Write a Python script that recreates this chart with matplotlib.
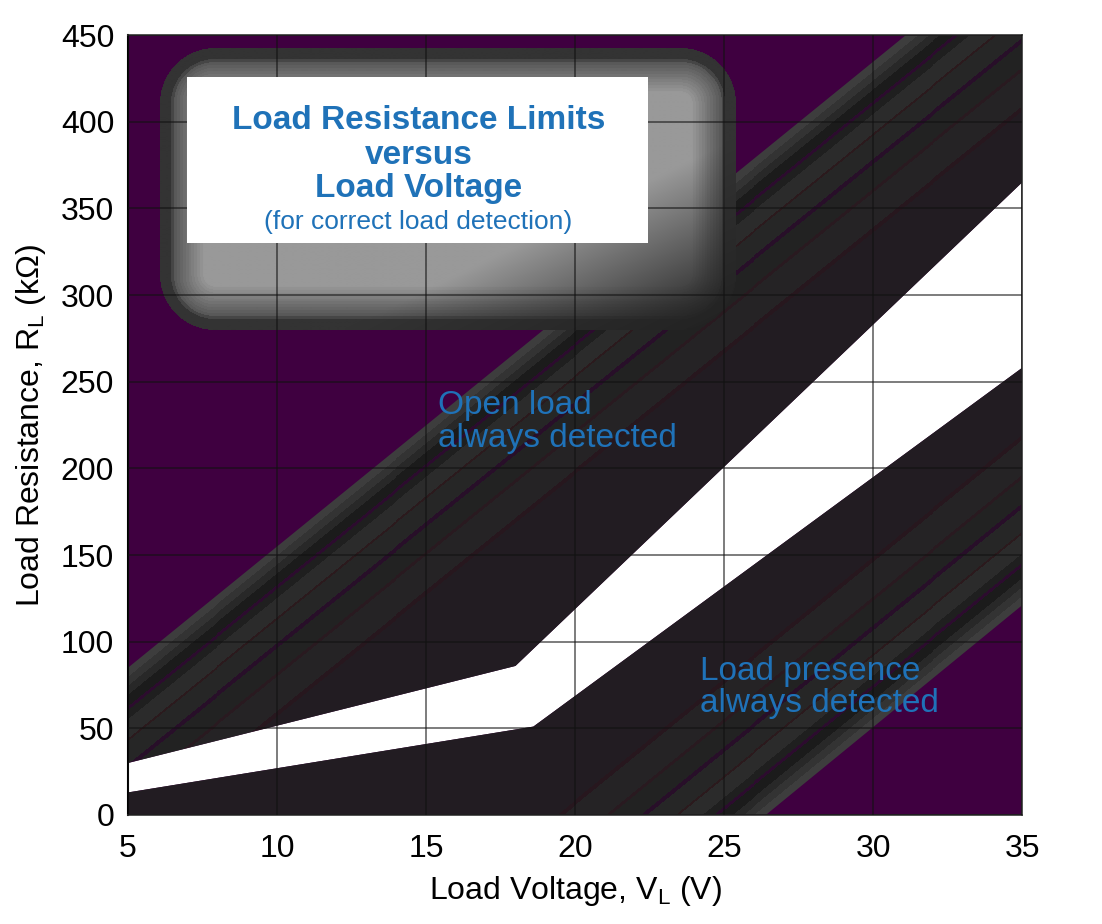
import numpy as np
import matplotlib.pyplot as plt
from matplotlib.patches import Polygon, Rectangle
from matplotlib.colors import to_rgb

plt.rcParams['font.family'] = ['Liberation Sans', 'DejaVu Sans']
plt.rcParams['mathtext.fontset'] = 'custom'
plt.rcParams['mathtext.rm'] = 'Liberation Sans'

# boundary lines (V, kOhm)
v_open = [5, 18, 35]          # top of the white band
r_open = [30, 86, 365]
v_pres = [5, 18.6, 35]        # bottom of the white band
r_pres = [13, 51, 258]
v_upper_edge = [5, 31.1]      # outer edge of the upper dark band
r_upper_edge = [85, 450]
v_lower_edge = [26.4, 35]     # outer edge of the lower dark band
r_lower_edge = [0, 121]

x_ticks = [5, 10, 15, 20, 25, 30, 35]
y_ticks = [0, 50, 100, 150, 200, 250, 300, 350, 400, 450]

purple = '#3f0040'
blue = '#1f72b8'

# stripe profile (distance in px from the outer edge, colour)
stripes = [(7, '#3d3d3d'), (14, '#333333'), (21, '#282828'), (30, '#1b1b1b'),
           (33, '#2c0c2e'), (40, '#1f1f1f'), (55, '#2b2b2b'), (57, '#2b1a1d'),
           (75, '#262626'), (79, '#280f29'), (98, '#222222'), (101, '#291a20'),
           (128, '#252325'), (132, '#27171e'), (1e9, '#221c22')]

fig = plt.figure(figsize=(11.02, 9.24), dpi=100)
ax = fig.add_axes([0.1162, 0.118, 0.8113, 0.844])
ax.set_xlim(5, 35)
ax.set_ylim(0, 450)
ax.set_facecolor(purple)

sx = 0.8113 * 1102 / 30.0
sy = 0.844 * 924 / 450.0


def stripe_image(v_edge, r_edge, sign):
    nx, ny = 900, 780
    V, R = np.meshgrid(np.linspace(5, 35, nx), np.linspace(0, 450, ny))
    X, Y = (V - 5) * sx, R * sy
    x1, y1 = (v_edge[0] - 5) * sx, r_edge[0] * sy
    x2, y2 = (v_edge[1] - 5) * sx, r_edge[1] * sy
    L = np.hypot(x2 - x1, y2 - y1)
    d = sign * ((x2 - x1) * (Y - y1) - (y2 - y1) * (X - x1)) / L
    ends = np.array([s[0] for s in stripes])
    cols = np.array([to_rgb(s[1]) for s in stripes])
    idx = np.clip(np.searchsorted(ends, d), 0, len(stripes) - 1)
    return cols[idx]


# white band between the two limits
white_poly = list(zip(v_open, r_open)) + list(zip(v_pres, r_pres))[::-1]
ax.add_patch(Polygon(white_poly, closed=True, fc='white', ec='none', zorder=0.5))

# upper dark band ("open load always detected")
upper_poly = list(zip(v_open, r_open)) + [(35, 450)] + list(zip(v_upper_edge, r_upper_edge))[::-1]
p_up = Polygon(upper_poly, closed=True, fc='none', ec='none')
ax.add_patch(p_up)
im = ax.imshow(stripe_image(v_upper_edge, r_upper_edge, -1), extent=[5, 35, 0, 450],
               origin='lower', aspect='auto', interpolation='nearest', zorder=1)
im.set_clip_path(p_up)

# lower dark band ("load presence always detected")
lower_poly = [(5, 0)] + list(zip(v_lower_edge, r_lower_edge)) + list(zip(v_pres, r_pres))[::-1]
p_lo = Polygon(lower_poly, closed=True, fc='none', ec='none')
ax.add_patch(p_lo)
im2 = ax.imshow(stripe_image(v_lower_edge, r_lower_edge, 1), extent=[5, 35, 0, 450],
                origin='lower', aspect='auto', interpolation='nearest', zorder=1)
im2.set_clip_path(p_lo)

# glow behind the title box
gx0, gx1, gy0, gy1 = 6.07, 25.37, 280, 442.6
nx, ny = int((gx1 - gx0) * sx), int((gy1 - gy0) * sy)
X, Y = np.meshgrid(np.arange(nx) + 0.5, np.arange(ny) + 0.5)
hx, hy, rr = nx / 2.0, ny / 2.0, 55.0
qx = np.abs(X - hx) - (hx - rr)
qy = np.abs(Y - hy) - (hy - rr)
sd = np.hypot(np.maximum(qx, 0), np.maximum(qy, 0)) + np.minimum(np.maximum(qx, qy), 0) - rr
depth = -sd
grey = np.where(depth < 11, 0.21,
                np.where(depth < 14, 0.27, 0.34 + 0.27 * np.clip((depth - 14) / 32, 0, 1)))
grey = np.round(grey * 40) / 40
# the lower right of the glow sinks into the dark band
t_br = (X / nx + (1 - Y / ny)) / 2.0
fade = np.clip(1 - (t_br - 0.66) / 0.30, 0.0, 1.0)
dark = 0.14
g = grey * fade + dark * (1 - fade)
rgba = np.zeros((ny, nx, 4))
rgba[..., 0] = rgba[..., 1] = rgba[..., 2] = g
rgba[..., 3] = np.where(depth >= 0, 1.0, 0.0)
ax.imshow(rgba, extent=[gx0, gx1, gy0, gy1], origin='lower', aspect='auto',
          interpolation='bilinear', zorder=1.5)

# grid over everything but the title box
ax.grid(True, color='#111111', alpha=0.55, lw=1.4, zorder=2)
ax.set_axisbelow(False)

ax.add_patch(Rectangle((6.98, 330), 22.45 - 6.98, 425.8 - 330, fc='white', ec='none', zorder=3))
ax.text(14.75, 400.5, 'Load Resistance Limits', ha='center', va='center', fontsize=24,
        fontweight='bold', color=blue, zorder=4)
ax.text(14.75, 380.5, 'versus', ha='center', va='center', fontsize=24,
        fontweight='bold', color=blue, zorder=4)
ax.text(14.75, 361.5, 'Load Voltage', ha='center', va='center', fontsize=24,
        fontweight='bold', color=blue, zorder=4)
ax.text(14.75, 342, '(for correct load detection)', ha='center', va='center', fontsize=19,
        color=blue, zorder=4)

ax.text(15.4, 245, 'Open load\nalways detected', ha='left', va='top', fontsize=24,
        color=blue, linespacing=1.08, zorder=4)
ax.text(24.2, 92, 'Load presence\nalways detected', ha='left', va='top', fontsize=24,
        color=blue, linespacing=1.08, zorder=4)

ax.set_xticks(x_ticks)
ax.set_yticks(y_ticks)
ax.tick_params(length=0, labelsize=23, colors='black')
ax.tick_params(axis='y', pad=10)
ax.tick_params(axis='x', pad=14)
for s in ['top', 'right', 'bottom']:
    ax.spines[s].set_color('#333333')
    ax.spines[s].set_linewidth(1.2)
ax.spines['left'].set_color('black')
ax.spines['left'].set_linewidth(1.5)

ax.set_xlabel(r'Load Voltage, $\mathregular{V_L}$ (V)', fontsize=23, labelpad=7)
ax.set_ylabel(r'Load Resistance, $\mathregular{R_L}$ (k$\Omega$)', fontsize=23, labelpad=9)

fig.savefig('out.png', dpi=100)
